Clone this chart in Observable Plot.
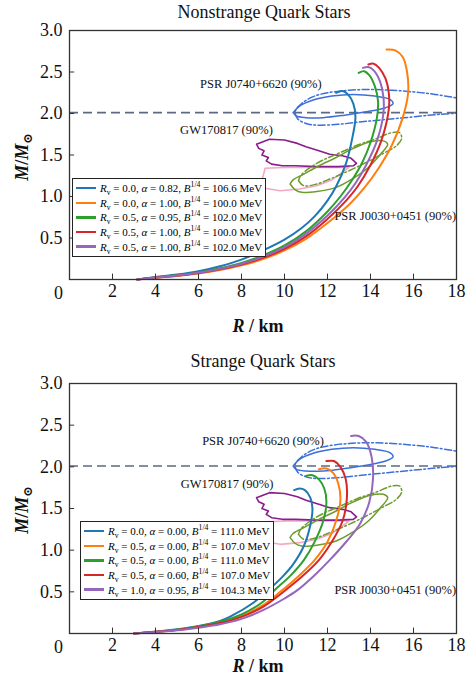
<!DOCTYPE html>
<html><head><meta charset="utf-8">
<script src="https://cdn.jsdelivr.net/npm/d3@7"></script>
<script src="https://cdn.jsdelivr.net/npm/@observablehq/plot@0.6"></script>
<style>
body{margin:0;background:#fff;font-family:"Liberation Serif","DejaVu Serif",serif;}
#wrap{position:relative;width:472px;height:677px;overflow:hidden;}
#wrap svg text{font-family:"Liberation Serif","DejaVu Serif",serif;}
.ov{position:absolute;white-space:nowrap;color:#111;}
.title{font-size:18px;transform:translateX(-50%);}
.xlab{font-size:18px;font-weight:bold;transform:translateX(-50%);}
.ylab{font-size:18px;font-weight:bold;transform:translate(-50%,-50%) rotate(-90deg);}
.leg{position:absolute;border:1px solid #222;background:#fff;font-size:11px;padding:2px 3px 2px 3px;white-space:nowrap;}
.row{display:flex;align-items:center;height:14.6px;white-space:nowrap;}
.sw{display:inline-block;width:20px;height:2.4px;margin-right:4px;flex:none;}
sub,sup{font-size:70%;line-height:0;}
</style></head>
<body><div id="wrap"></div>
<script>
// ---- data: mass-radius curves [R (km), M/Msun] ----
const nsBlue   = [[3.15,0],[4,0.03],[5,0.06],[6,0.1],[7,0.16],[8,0.24],[9,0.35],[10,0.48],[10.8,0.62],[11.4,0.76],[12.0,0.95],[12.4,1.12],[12.85,1.39],[13.15,1.7],[13.3,1.96],[13.2,2.12],[12.95,2.23],[12.7,2.27],[12.4,2.25]];
const nsOrange = [[3.15,0],[4,0.022],[5,0.043],[6,0.072],[7,0.113],[8,0.17],[9,0.245],[10,0.35],[11,0.49],[12,0.68],[13,0.9],[13.7,1.1],[14.4,1.35],[15.0,1.62],[15.5,1.95],[15.75,2.25],[15.7,2.5],[15.5,2.68],[15.15,2.76],[14.75,2.77]];
const nsGreen  = [[3.15,0],[4,0.025],[5,0.05],[6,0.085],[7,0.135],[8,0.2],[9,0.29],[10,0.41],[11,0.58],[12,0.82],[12.6,1.0],[13.1,1.18],[13.6,1.4],[14.0,1.65],[14.3,1.95],[14.35,2.15],[14.2,2.33],[13.95,2.46],[13.7,2.51],[13.45,2.49]];
const nsRed    = [[3.15,0],[4,0.023],[5,0.046],[6,0.077],[7,0.122],[8,0.18],[9,0.26],[10,0.37],[11,0.52],[12,0.73],[12.9,0.96],[13.4,1.12],[14.0,1.38],[14.5,1.67],[14.85,2.05],[14.85,2.25],[14.7,2.42],[14.4,2.55],[14.15,2.6],[13.9,2.59]];
const nsPurple = [[3.15,0],[4,0.024],[5,0.048],[6,0.08],[7,0.128],[8,0.19],[9,0.275],[10,0.39],[11,0.55],[12,0.77],[12.8,0.99],[13.3,1.16],[13.8,1.38],[14.3,1.67],[14.6,2.0],[14.6,2.2],[14.45,2.38],[14.15,2.52],[13.9,2.56],[13.65,2.55]];

const sBlue   = [[3.0,0],[4,0.02],[5,0.05],[6,0.09],[7,0.15],[7.6,0.22],[8.5,0.36],[9.2,0.51],[9.9,0.68],[10.4,0.83],[10.9,1.05],[11.2,1.3],[11.3,1.5],[11.2,1.63],[10.95,1.72],[10.7,1.74],[10.45,1.72]];
const sOrange = [[3.0,0],[4,0.02],[5,0.043],[6,0.08],[7,0.13],[8,0.21],[9,0.34],[9.8,0.5],[10.7,0.7],[11.4,0.88],[12.0,1.1],[12.4,1.35],[12.6,1.6],[12.5,1.8],[12.25,1.93],[11.95,1.98],[11.6,1.97]];
const sGreen  = [[3.0,0],[4,0.02],[5,0.045],[6,0.085],[7,0.14],[8,0.23],[9,0.38],[9.5,0.51],[10.3,0.7],[10.9,0.88],[11.4,1.1],[11.8,1.35],[11.95,1.58],[11.85,1.74],[11.6,1.85],[11.3,1.9],[11.0,1.89]];
const sRed    = [[3.0,0],[4,0.02],[5,0.042],[6,0.078],[7,0.125],[8,0.2],[9,0.32],[9.9,0.49],[10.8,0.68],[11.6,0.88],[12.2,1.1],[12.7,1.35],[12.9,1.62],[12.85,1.85],[12.6,2.0],[12.3,2.07],[11.95,2.07]];
const sPurple = [[3.0,0],[4,0.018],[5,0.038],[6,0.07],[7,0.11],[8,0.175],[9,0.28],[10,0.42],[10.6,0.52],[11.4,0.7],[12.1,0.88],[12.9,1.11],[13.5,1.31],[13.95,1.58],[14.12,1.87],[14.05,2.12],[13.8,2.3],[13.45,2.37],[13.1,2.37]];

// ---- observational constraints (90% contours) ----
const j0740Solid = [[10.4,2.01],[10.7,2.09],[11.3,2.16],[12.2,2.21],[13.2,2.23],[14.2,2.21],[14.9,2.17],[15.05,2.12],[14.7,2.07],[13.8,2.02],[12.8,1.98],[11.8,1.95],[11.0,1.95],[10.55,1.97],[10.4,2.01]];
const j0740Dash  = [[18.4,2.17],[17.0,2.23],[16.0,2.26],[15.0,2.28],[14.0,2.29],[13.0,2.28],[12.0,2.25],[11.3,2.2],[10.8,2.12],[10.5,2.03],[10.6,1.94],[11.0,1.88],[11.5,1.86],[12.5,1.87],[13.6,1.9],[14.8,1.93],[16.0,1.96],[17.2,1.99],[18.4,2.01]];
const gwDark  = [[8.7,1.63],[9.3,1.69],[10.0,1.68],[10.6,1.64],[11.0,1.6],[11.6,1.55],[12.1,1.51],[12.7,1.49],[13.1,1.46],[13.35,1.4],[13.2,1.37],[12.5,1.36],[11.5,1.36],[10.5,1.37],[9.9,1.37],[9.4,1.39],[9.15,1.43],[9.25,1.47],[8.95,1.5],[9.05,1.55],[8.8,1.58],[8.7,1.63]];
const gwLight = [[9.1,1.34],[10,1.35],[11,1.35],[12,1.35],[13.0,1.35],[12.7,1.29],[12.2,1.2],[11.5,1.13],[10.7,1.09],[9.8,1.07],[9.1,1.1],[8.9,1.15],[9.0,1.24],[9.1,1.34]];
const j0030Solid = [[10.26,1.15],[10.5,1.08],[10.8,1.05],[11.5,1.06],[12.4,1.11],[13.2,1.22],[13.9,1.35],[14.5,1.52],[14.8,1.63],[14.6,1.67],[14.0,1.66],[13.2,1.58],[12.4,1.47],[11.6,1.37],[10.9,1.27],[10.4,1.2],[10.26,1.15]];
const j0030Dash  = [[10.65,1.19],[10.9,1.13],[11.5,1.15],[12.2,1.22],[13.0,1.31],[13.8,1.41],[14.6,1.52],[15.2,1.61],[15.45,1.7],[15.35,1.77],[15.0,1.77],[14.2,1.69],[13.4,1.62],[12.6,1.53],[11.8,1.44],[11.2,1.35],[10.75,1.25],[10.65,1.19]];
const massLine = [2.01];

const xTicks = [2,4,6,8,10,12,14,16,18];
const yTicks = [0.5,1.0,1.5,2.0,2.5,3.0];

const nsLegend = [
  ["0.0","0.82","106.6"],["0.0","1.00","100.0"],["0.5","0.95","102.0"],["0.5","1.00","100.0"],["0.5","1.00","102.0"]];
const sLegend = [
  ["0.0","0.00","111.0"],["0.5","0.00","107.0"],["0.5","0.00","111.0"],["0.5","0.60","107.0"],["1.0","0.95","104.3"]];
const colors = ["#1f77b4","#ff7f0e","#2ca02c","#d62728","#9467bd"];

const nsLabels = [{t:"PSR J0740+6620 (90%)",x:8.9,y:2.36},{t:"GW170817 (90%)",x:7.3,y:1.8},{t:"PSR J0030+0451 (90%)",x:15.15,y:0.76}];
const sLabels  = [{t:"PSR J0740+6620 (90%)",x:9.0,y:2.31},{t:"GW170817 (90%)",x:7.33,y:1.8},{t:"PSR J0030+0451 (90%)",x:15.15,y:0.52}];

const FONT = '"Liberation Serif","DejaVu Serif",serif';

function panel(curves, labels, h, mt, mb){
  const X = d=>d[0], Y = d=>d[1];
  const marks = [
    Plot.line(gwLight,{x:X,y:Y,stroke:"#f3a8c4",strokeWidth:1.6}),
    Plot.line(gwDark,{x:X,y:Y,stroke:"#8a1c8c",strokeWidth:1.6}),
    Plot.line(j0030Solid,{x:X,y:Y,stroke:"#6e9b2e",strokeWidth:1.5,curve:"catmull-rom"}),
    Plot.line(j0030Dash,{x:X,y:Y,stroke:"#6e9b2e",strokeWidth:1.5,strokeDasharray:"7,2.5,1.8,2.5",curve:"catmull-rom"}),
    Plot.ruleY(massLine,{stroke:"#5b6a82",strokeWidth:1.7,strokeDasharray:"9,5"}),
    Plot.line(j0740Solid,{x:X,y:Y,stroke:"#3d6fdb",strokeWidth:1.5,curve:"catmull-rom"}),
    Plot.line(j0740Dash,{x:X,y:Y,stroke:"#3d6fdb",strokeWidth:1.5,strokeDasharray:"7,2.5,1.8,2.5",curve:"catmull-rom",clip:true}),
    ...curves.map((c,i)=>Plot.line(c,{x:X,y:Y,stroke:colors[i],strokeWidth:2,curve:"catmull-rom"})),
    Plot.text(labels,{x:"x",y:"y",text:"t",fontSize:12.5,fill:"#111",fontFamily:FONT}),
    Plot.ruleX(xTicks,{y1:0,y2:0.065,stroke:"#333",strokeWidth:1}),
    Plot.ruleY(yTicks,{x1:0,x2:0.24,stroke:"#333",strokeWidth:1}),
    Plot.axisX(xTicks,{tickSize:0,tickPadding:5,fontSize:18,fill:"#111",fontFamily:FONT}),
    Plot.text([0],{x:d=>d,y:0,dx:-11,dy:14,fontSize:18,fill:"#111",fontFamily:FONT}),
    Plot.axisY(yTicks,{tickSize:0,tickPadding:7,fontSize:18,fill:"#111",fontFamily:FONT,tickFormat:d=>d.toFixed(1)}),
    Plot.frame({stroke:"#333",strokeWidth:1.3})
  ];
  return Plot.plot({
    width:472, height:h, marginLeft:69, marginRight:16, marginTop:mt, marginBottom:mb,
    x:{domain:[0,18], label:null},
    y:{domain:[0,3], label:null},
    style:{fontFamily:FONT, fontSize:"18px", background:"transparent", overflow:"visible"},
    marks
  });
}

const wrap = document.getElementById("wrap");
const p1 = panel([nsBlue,nsOrange,nsGreen,nsRed,nsPurple], nsLabels, 345, 30, 66);
p1.style.position="absolute"; p1.style.left="0"; p1.style.top="0";
const p2 = panel([sBlue,sOrange,sGreen,sRed,sPurple], sLabels, 332, 38, 44);
p2.style.position="absolute"; p2.style.left="0"; p2.style.top="345px";
wrap.appendChild(p1); wrap.appendChild(p2);

function ov(cls, html, left, top){
  const d=document.createElement("div"); d.className="ov "+cls; d.innerHTML=html;
  d.style.left=left+"px"; d.style.top=top+"px"; wrap.appendChild(d); return d;
}
ov("title","Nonstrange Quark Stars",264,2);
ov("title","Strange Quark Stars",263,351);
ov("xlab","<i>R</i> / km",258,316);
ov("xlab","<i>R</i> / km",258,656);
const ylabHTML = "<i>M</i>/<i>M</i><sub>⊙</sub>";
ov("ylab",ylabHTML,22,157);
ov("ylab",ylabHTML,22,510);

function legend(rows, left, top){
  const d=document.createElement("div"); d.className="leg";
  d.style.left=left+"px"; d.style.top=top+"px";
  rows.forEach((r,i)=>{
    const row=document.createElement("div"); row.className="row";
    row.innerHTML=`<span class="sw" style="background:${colors[i]}"></span><span><i>R</i><sub>v</sub> = ${r[0]}, <i>α</i> = ${r[1]}, <i>B</i><sup>1/4</sup> = ${r[2]} MeV</span>`;
    d.appendChild(row);
  });
  wrap.appendChild(d);
}
legend(nsLegend, 72, 178);
legend(sLegend, 80, 521);
</script></body></html>
